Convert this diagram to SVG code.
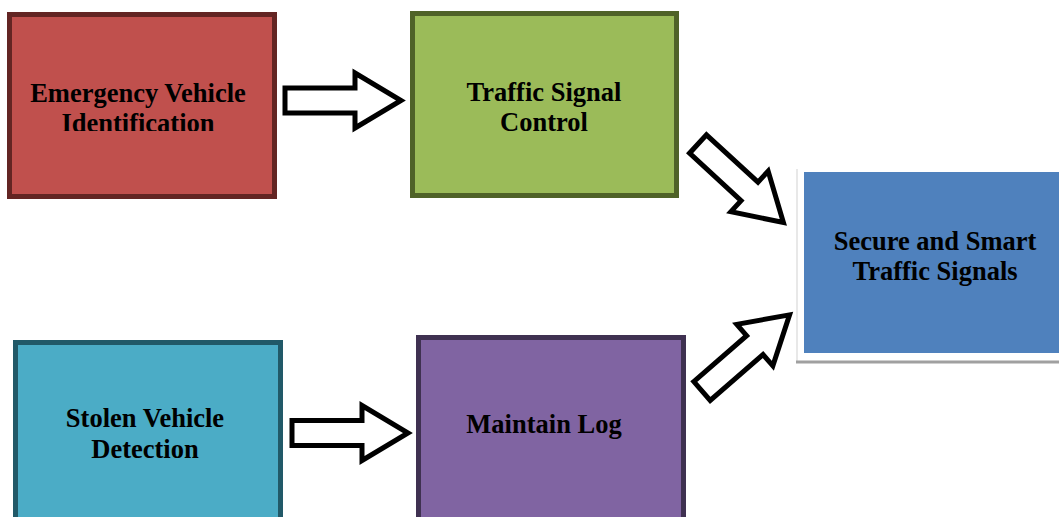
<svg xmlns="http://www.w3.org/2000/svg" width="1059" height="517" viewBox="0 0 1059 517">
<defs>
<style>
.t{font-family:"Liberation Serif","Times New Roman",serif;font-weight:bold;font-size:26.5px;fill:#000;text-anchor:middle}
.arr{fill:#fff;stroke:#000;stroke-width:5;stroke-linejoin:miter}
</style>
<clipPath id="clipRed"><rect x="7" y="12" width="270" height="119"/></clipPath>
<polygon id="arrowShape" points="0,-12.5 70,-12.5 70,-27.5 116,0 70,27.5 70,12.5 0,12.5"/>
</defs>
<rect width="1059" height="517" fill="#fff"/>
<g id="node-emergency">
<rect x="9.5" y="14.5" width="265" height="182" fill="#c0504d" stroke="#632523" stroke-width="5"/>
<g clip-path="url(#clipRed)">
<text class="t" x="138" y="102">Emergency Vehicle</text>
<text class="t" x="138" y="132">Identification</text>
</g>
</g>
<g id="node-traffic-control">
<rect x="412.5" y="13.5" width="264" height="182" fill="#9bbb59" stroke="#4f6228" stroke-width="5"/>
<text class="t" x="544" y="101">Traffic Signal</text>
<text class="t" x="544" y="131">Control</text>
</g>
<g id="node-secure">
<rect x="796" y="169" width="263" height="194" fill="#fff"/>
<line x1="797" y1="169" x2="797" y2="362" stroke="#e0e0e0" stroke-width="1.5"/>
<line x1="796" y1="362" x2="1059" y2="362" stroke="#a0a0a0" stroke-width="3"/>
<rect x="804" y="172" width="255" height="181" fill="#4f81bd"/>
<text class="t" x="935" y="250">Secure and Smart</text>
<text class="t" x="935" y="280">Traffic Signals</text>
</g>
<g id="node-stolen">
<rect x="15.5" y="342.5" width="265" height="182" fill="#4bacc6" stroke="#215968" stroke-width="5"/>
<text class="t" x="145" y="427">Stolen Vehicle</text>
<text class="t" x="145" y="458">Detection</text>
</g>
<g id="node-log">
<rect x="418.5" y="337.5" width="265" height="190" fill="#8064a2" stroke="#3f3151" stroke-width="5"/>
<text class="t" x="544" y="433">Maintain Log</text>
</g>
<g id="connectors">
<use href="#arrowShape" class="arr" transform="translate(285,100.5)"/>
<use href="#arrowShape" class="arr" transform="translate(292,433)"/>
<use href="#arrowShape" class="arr" transform="translate(698,144) rotate(42.6)"/>
<use href="#arrowShape" class="arr" transform="translate(702,391) rotate(-41)"/>
</g>
</svg>
